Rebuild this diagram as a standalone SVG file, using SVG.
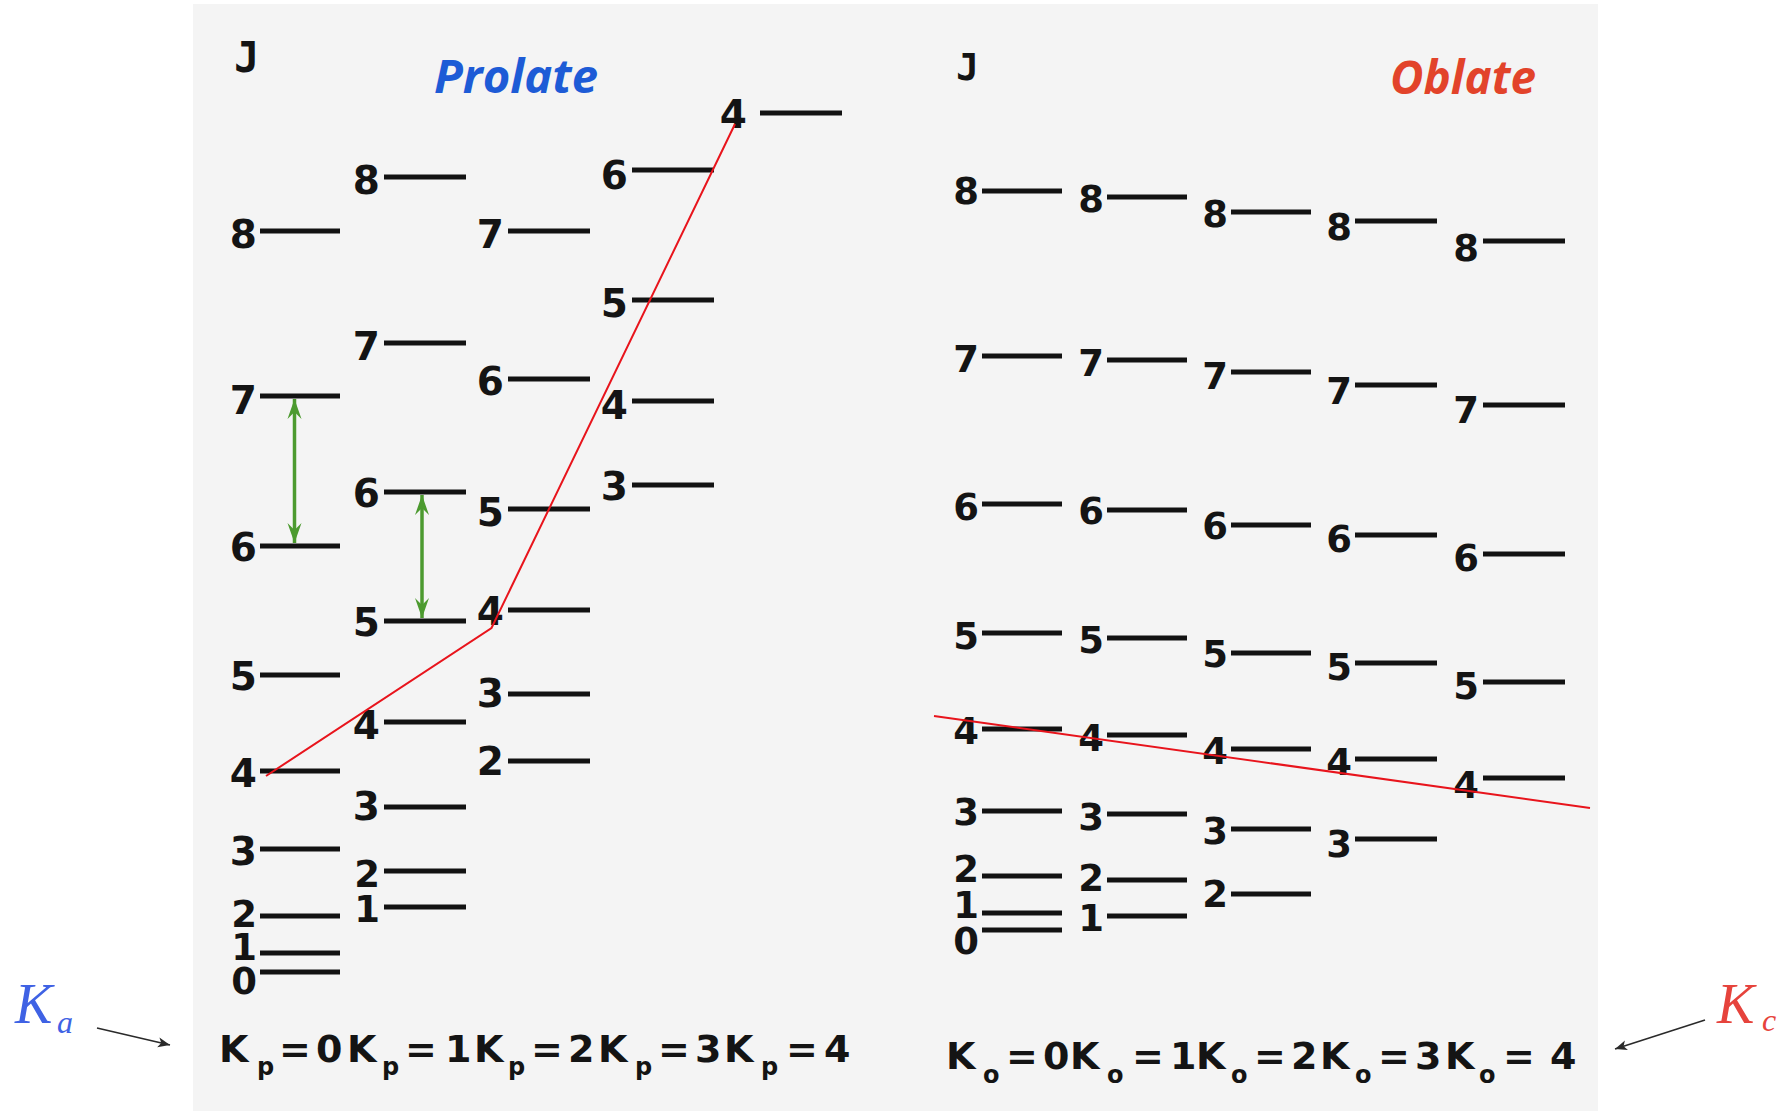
<svg xmlns="http://www.w3.org/2000/svg" width="1788" height="1111" viewBox="0 0 1788 1111">
  <style>
    .lvl { stroke: #121212; stroke-width: 5; }
    .pl { font-family: "DejaVu Sans", Verdana, sans-serif; font-weight: bold; font-size: 39px; fill: #141414; text-anchor: end; }
    .pl.sm { font-size: 37px; }
    .ol { font-family: "DejaVu Sans", Verdana, sans-serif; font-weight: bold; font-size: 37px; fill: #141414; text-anchor: end; }
    .jj { font-family: "DejaVu Sans Mono", monospace; font-weight: bold; fill: #141414; }
    .ttl { font-family: "Open Sans", "Noto Sans", sans-serif; font-weight: bold; font-style: italic; font-size: 47px; }
    .kb { font-family: "DejaVu Sans", Verdana, sans-serif; font-weight: bold; font-size: 38px; fill: #141414; }
    .kb .s { font-size: 24px; }
    .km { font-family: "Liberation Serif", "DejaVu Serif", serif; font-style: italic; }
    .red { fill: none; stroke: #e8141c; stroke-width: 2; }
    .grn { stroke: #4c9a2f; stroke-width: 3.5; marker-start: url(#gh); marker-end: url(#gh); }
    .ptr { stroke: #2a2a2a; stroke-width: 1.6; marker-end: url(#ah); }
  </style>
  <defs>
    <marker id="gh" viewBox="-21 -8 22 16" markerWidth="22" markerHeight="16" markerUnits="userSpaceOnUse" refX="0" refY="0" orient="auto-start-reverse">
      <path d="M0,0 L-20,-7 L-13,0 L-20,7 Z" fill="#4c9a2f"/>
    </marker>
    <marker id="ah" viewBox="-12 -6 14 12" markerWidth="14" markerHeight="12" markerUnits="userSpaceOnUse" refX="0" refY="0" orient="auto">
      <path d="M0,0 L-12,-5 L-9,0 L-12,5 Z" fill="#2a2a2a"/>
    </marker>
  </defs>

  <rect x="0" y="0" width="1788" height="1111" fill="#ffffff"/>
  <rect x="193" y="4" width="1405" height="1107" fill="#f4f4f4"/>

  <!-- prolate panel -->
  <g id="prolate-head">
    <text class="jj" x="234" y="72" font-size="42">J</text>
    <text class="ttl" x="434" y="93" fill="#1d5bd6" textLength="164" lengthAdjust="spacingAndGlyphs">Prolate</text>
  </g>

  <g id="prolate-k0">
    <g id="p0-8"><line class="lvl" x1="260" y1="231" x2="340" y2="231"/><text class="pl" x="257" y="248">8</text></g>
    <g id="p0-7"><line class="lvl" x1="260" y1="396" x2="340" y2="396"/><text class="pl" x="257" y="414">7</text></g>
    <g id="p0-6"><line class="lvl" x1="260" y1="546" x2="340" y2="546"/><text class="pl" x="257" y="561">6</text></g>
    <g id="p0-5"><line class="lvl" x1="260" y1="675" x2="340" y2="675"/><text class="pl" x="257" y="690">5</text></g>
    <g id="p0-4"><line class="lvl" x1="260" y1="771" x2="340" y2="771"/><text class="pl" x="257" y="787">4</text></g>
    <g id="p0-3"><line class="lvl" x1="260" y1="849" x2="340" y2="849"/><text class="pl" x="257" y="865">3</text></g>
    <g id="p0-2"><line class="lvl" x1="260" y1="916" x2="340" y2="916"/><text class="pl sm" x="257" y="927">2</text></g>
    <g id="p0-1"><line class="lvl" x1="260" y1="953" x2="340" y2="953"/><text class="pl sm" x="257" y="960">1</text></g>
    <g id="p0-0"><line class="lvl" x1="260" y1="972" x2="340" y2="972"/><text class="pl sm" x="257" y="994">0</text></g>
  </g>
  <g id="prolate-k1">
    <g id="p1-8"><line class="lvl" x1="384" y1="177" x2="466" y2="177"/><text class="pl" x="380" y="194">8</text></g>
    <g id="p1-7"><line class="lvl" x1="384" y1="343" x2="466" y2="343"/><text class="pl" x="380" y="360">7</text></g>
    <g id="p1-6"><line class="lvl" x1="384" y1="492" x2="466" y2="492"/><text class="pl" x="380" y="507">6</text></g>
    <g id="p1-5"><line class="lvl" x1="384" y1="621" x2="466" y2="621"/><text class="pl" x="380" y="636">5</text></g>
    <g id="p1-4"><line class="lvl" x1="384" y1="722" x2="466" y2="722"/><text class="pl" x="380" y="739">4</text></g>
    <g id="p1-3"><line class="lvl" x1="384" y1="807" x2="466" y2="807"/><text class="pl" x="380" y="820">3</text></g>
    <g id="p1-2"><line class="lvl" x1="384" y1="871" x2="466" y2="871"/><text class="pl sm" x="380" y="887">2</text></g>
    <g id="p1-1"><line class="lvl" x1="384" y1="907" x2="466" y2="907"/><text class="pl sm" x="380" y="922">1</text></g>
  </g>
  <g id="prolate-k2">
    <g id="p2-7"><line class="lvl" x1="508" y1="231" x2="590" y2="231"/><text class="pl" x="504" y="248">7</text></g>
    <g id="p2-6"><line class="lvl" x1="508" y1="379" x2="590" y2="379"/><text class="pl" x="504" y="395">6</text></g>
    <g id="p2-5"><line class="lvl" x1="508" y1="509" x2="590" y2="509"/><text class="pl" x="504" y="526">5</text></g>
    <g id="p2-4"><line class="lvl" x1="508" y1="610" x2="590" y2="610"/><text class="pl" x="504" y="625">4</text></g>
    <g id="p2-3"><line class="lvl" x1="508" y1="694" x2="590" y2="694"/><text class="pl" x="504" y="707">3</text></g>
    <g id="p2-2"><line class="lvl" x1="508" y1="761" x2="590" y2="761"/><text class="pl" x="504" y="775">2</text></g>
  </g>
  <g id="prolate-k3">
    <g id="p3-6"><line class="lvl" x1="632" y1="170" x2="714" y2="170"/><text class="pl" x="628" y="189">6</text></g>
    <g id="p3-5"><line class="lvl" x1="632" y1="300" x2="714" y2="300"/><text class="pl" x="628" y="317">5</text></g>
    <g id="p3-4"><line class="lvl" x1="632" y1="401" x2="714" y2="401"/><text class="pl" x="628" y="419">4</text></g>
    <g id="p3-3"><line class="lvl" x1="632" y1="485" x2="714" y2="485"/><text class="pl" x="628" y="500">3</text></g>
  </g>
  <g id="prolate-k4">
    <g id="p4-4"><line class="lvl" x1="760" y1="113" x2="842" y2="113"/><text class="pl" x="747" y="128">4</text></g>
  </g>

  <!-- oblate panel -->
  <g id="oblate-head">
    <text class="jj" x="956" y="80" font-size="38">J</text>
    <text class="ttl" x="1390" y="94" fill="#e2432a" textLength="146" lengthAdjust="spacingAndGlyphs">Oblate</text>
  </g>

  <g id="oblate-k0">
    <g id="o0-8"><line class="lvl" x1="982" y1="191" x2="1062" y2="191"/><text class="ol" x="979" y="204">8</text></g>
    <g id="o0-7"><line class="lvl" x1="982" y1="356" x2="1062" y2="356"/><text class="ol" x="979" y="372">7</text></g>
    <g id="o0-6"><line class="lvl" x1="982" y1="504" x2="1062" y2="504"/><text class="ol" x="979" y="520">6</text></g>
    <g id="o0-5"><line class="lvl" x1="982" y1="633" x2="1062" y2="633"/><text class="ol" x="979" y="649">5</text></g>
    <g id="o0-4"><line class="lvl" x1="982" y1="729" x2="1062" y2="729"/><text class="ol" x="979" y="744">4</text></g>
    <g id="o0-3"><line class="lvl" x1="982" y1="811" x2="1062" y2="811"/><text class="ol" x="979" y="825">3</text></g>
    <g id="o0-2"><line class="lvl" x1="982" y1="876" x2="1062" y2="876"/><text class="ol" x="979" y="882">2</text></g>
    <g id="o0-1"><line class="lvl" x1="982" y1="913" x2="1062" y2="913"/><text class="ol" x="979" y="918">1</text></g>
    <g id="o0-0"><line class="lvl" x1="982" y1="930" x2="1062" y2="930"/><text class="ol" x="979" y="954">0</text></g>
  </g>
  <g id="oblate-k1">
    <g id="o1-8"><line class="lvl" x1="1107" y1="197" x2="1187" y2="197"/><text class="ol" x="1104" y="212">8</text></g>
    <g id="o1-7"><line class="lvl" x1="1107" y1="360" x2="1187" y2="360"/><text class="ol" x="1104" y="376">7</text></g>
    <g id="o1-6"><line class="lvl" x1="1107" y1="510" x2="1187" y2="510"/><text class="ol" x="1104" y="524">6</text></g>
    <g id="o1-5"><line class="lvl" x1="1107" y1="638" x2="1187" y2="638"/><text class="ol" x="1104" y="653">5</text></g>
    <g id="o1-4"><line class="lvl" x1="1107" y1="735" x2="1187" y2="735"/><text class="ol" x="1104" y="751">4</text></g>
    <g id="o1-3"><line class="lvl" x1="1107" y1="814" x2="1187" y2="814"/><text class="ol" x="1104" y="830">3</text></g>
    <g id="o1-2"><line class="lvl" x1="1107" y1="880" x2="1187" y2="880"/><text class="ol" x="1104" y="891">2</text></g>
    <g id="o1-1"><line class="lvl" x1="1107" y1="916" x2="1187" y2="916"/><text class="ol" x="1104" y="931">1</text></g>
  </g>
  <g id="oblate-k2">
    <g id="o2-8"><line class="lvl" x1="1231" y1="212" x2="1311" y2="212"/><text class="ol" x="1228" y="227">8</text></g>
    <g id="o2-7"><line class="lvl" x1="1231" y1="372" x2="1311" y2="372"/><text class="ol" x="1228" y="389">7</text></g>
    <g id="o2-6"><line class="lvl" x1="1231" y1="525" x2="1311" y2="525"/><text class="ol" x="1228" y="539">6</text></g>
    <g id="o2-5"><line class="lvl" x1="1231" y1="653" x2="1311" y2="653"/><text class="ol" x="1228" y="667">5</text></g>
    <g id="o2-4"><line class="lvl" x1="1231" y1="749" x2="1311" y2="749"/><text class="ol" x="1228" y="764">4</text></g>
    <g id="o2-3"><line class="lvl" x1="1231" y1="829" x2="1311" y2="829"/><text class="ol" x="1228" y="844">3</text></g>
    <g id="o2-2"><line class="lvl" x1="1231" y1="894" x2="1311" y2="894"/><text class="ol" x="1228" y="907">2</text></g>
  </g>
  <g id="oblate-k3">
    <g id="o3-8"><line class="lvl" x1="1355" y1="221" x2="1437" y2="221"/><text class="ol" x="1352" y="240">8</text></g>
    <g id="o3-7"><line class="lvl" x1="1355" y1="385" x2="1437" y2="385"/><text class="ol" x="1352" y="404">7</text></g>
    <g id="o3-6"><line class="lvl" x1="1355" y1="535" x2="1437" y2="535"/><text class="ol" x="1352" y="552">6</text></g>
    <g id="o3-5"><line class="lvl" x1="1355" y1="663" x2="1437" y2="663"/><text class="ol" x="1352" y="680">5</text></g>
    <g id="o3-4"><line class="lvl" x1="1355" y1="759" x2="1437" y2="759"/><text class="ol" x="1352" y="775">4</text></g>
    <g id="o3-3"><line class="lvl" x1="1355" y1="839" x2="1437" y2="839"/><text class="ol" x="1352" y="857">3</text></g>
  </g>
  <g id="oblate-k4">
    <g id="o4-8"><line class="lvl" x1="1483" y1="241" x2="1565" y2="241"/><text class="ol" x="1479" y="261">8</text></g>
    <g id="o4-7"><line class="lvl" x1="1483" y1="405" x2="1565" y2="405"/><text class="ol" x="1479" y="423">7</text></g>
    <g id="o4-6"><line class="lvl" x1="1483" y1="554" x2="1565" y2="554"/><text class="ol" x="1479" y="571">6</text></g>
    <g id="o4-5"><line class="lvl" x1="1483" y1="682" x2="1565" y2="682"/><text class="ol" x="1479" y="699">5</text></g>
    <g id="o4-4"><line class="lvl" x1="1483" y1="778" x2="1565" y2="778"/><text class="ol" x="1479" y="798">4</text></g>
  </g>

  <!-- column captions -->
  <g id="prolate-axis">
    <text class="kb"><tspan x="219" y="1062">K</tspan><tspan class="s" x="257" y="1075">p</tspan><tspan x="279" y="1062">=</tspan><tspan x="316" y="1062">0</tspan><tspan x="347" y="1062">K</tspan><tspan class="s" x="382" y="1075">p</tspan><tspan x="405" y="1062">=</tspan><tspan x="445" y="1062">1</tspan><tspan x="474" y="1062">K</tspan><tspan class="s" x="508" y="1075">p</tspan><tspan x="531" y="1062">=</tspan><tspan x="568" y="1062">2</tspan><tspan x="598" y="1062">K</tspan><tspan class="s" x="635" y="1075">p</tspan><tspan x="658" y="1062">=</tspan><tspan x="695" y="1062">3</tspan><tspan x="724" y="1062">K</tspan><tspan class="s" x="761" y="1075">p</tspan><tspan x="786" y="1062">=</tspan><tspan x="824" y="1062">4</tspan></text>
  </g>
  <g id="oblate-axis">
    <text class="kb"><tspan x="946" y="1069">K</tspan><tspan class="s" x="983" y="1083">o</tspan><tspan x="1006" y="1069">=</tspan><tspan x="1043" y="1069">0</tspan><tspan x="1070" y="1069">K</tspan><tspan class="s" x="1107" y="1083">o</tspan><tspan x="1132" y="1069">=</tspan><tspan x="1170" y="1069">1</tspan><tspan x="1196" y="1069">K</tspan><tspan class="s" x="1231" y="1083">o</tspan><tspan x="1254" y="1069">=</tspan><tspan x="1291" y="1069">2</tspan><tspan x="1320" y="1069">K</tspan><tspan class="s" x="1355" y="1083">o</tspan><tspan x="1378" y="1069">=</tspan><tspan x="1415" y="1069">3</tspan><tspan x="1445" y="1069">K</tspan><tspan class="s" x="1479" y="1083">o</tspan><tspan x="1503" y="1069">=</tspan><tspan x="1550" y="1069">4</tspan></text>
  </g>

  <!-- quantum number symbols -->
  <g id="ka-label">
    <text class="km" fill="#3f62e4"><tspan x="15" y="1023" font-size="56">K</tspan><tspan x="57" y="1033" font-size="32">a</tspan></text>
  </g>
  <g id="kc-label">
    <text class="km" fill="#e6433c"><tspan x="1717" y="1023" font-size="56">K</tspan><tspan x="1762" y="1031" font-size="32">c</tspan></text>
  </g>

  <!-- connectors -->
  <g id="connectors">
    <polyline class="red" points="266,776 491.5,628 735,124"/>
    <line class="red" x1="934" y1="716" x2="1590" y2="808"/>
    <line class="grn" x1="294.5" y1="399" x2="294.5" y2="543"/>
    <line class="grn" x1="422" y1="495" x2="422" y2="618"/>
    <line class="ptr" x1="97" y1="1028" x2="170" y2="1045"/>
    <line class="ptr" x1="1705" y1="1020" x2="1615" y2="1049"/>
  </g>
</svg>
